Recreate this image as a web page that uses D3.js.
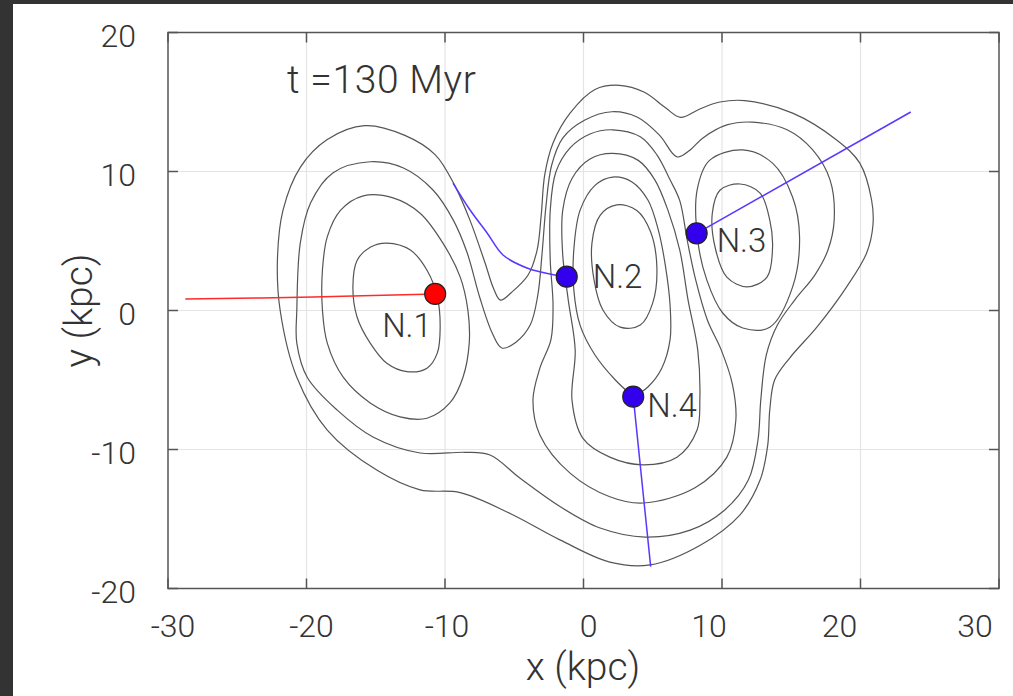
<!DOCTYPE html>
<html>
<head>
<meta charset="utf-8">
<script src="https://cdn.jsdelivr.net/npm/d3@7"></script>
<style>
  html, body { margin: 0; padding: 0; background: #333; }
  svg { display: block; }
  text { font-family: Roboto, "Liberation Sans", sans-serif; font-weight: 300; fill: #333; }
</style>
</head>
<body>
<div id="chart"></div>
<script>
// axis ticks
const xTicks = [-30, -20, -10, 0, 10, 20, 30];
const yTicks = [-20, -10, 0, 10, 20];
const titleText = "t =130 Myr";

// density contours, (x, y) in kpc
const level1 = [[-15.8,13.3],[-12.9,12.6],[-10.7,11.2],[-9.3,9.0],[-8.2,6.5],[-7.1,3.4],[-6.5,1.6],[-6.0,0.75],
  [-5.2,1.3],[-4.0,2.55],[-3.35,4.35],[-3.05,6.9],[-2.8,9.75],[-2.2,12.05],[-0.97,14.2],[0.83,15.9],[2.6,16.2],
  [4.4,15.7],[5.9,14.6],[7.0,13.9],[8.4,14.5],[9.85,15.0],[11.65,15.1],[15.1,14.2],[18.3,12.25],[19.95,10.6],
  [20.8,7.95],[20.9,6.15],[20.45,4.15],[19.0,1.7],[16.85,-1.2],[14.9,-3.4],[13.8,-5.0],[13.45,-7.15],[13.3,-9.7],
  [12.75,-12.2],[11.3,-14.7],[8.4,-16.9],[4.8,-18.3],[1.9,-18.1],[-1.7,-16.5],[-5.3,-14.6],[-8.9,-13.1],
  [-11.8,-12.9],[-14.9,-11.5],[-18.5,-8.6],[-20.7,-4.8],[-21.9,0.0],[-22.1,3.6],[-21.7,7.2],[-20.45,10.3],[-18.5,12.3]];

const level2 = [[-15.4,10.7],[-13.0,10.25],[-10.85,8.65],[-9.4,6.5],[-8.4,4.15],[-7.5,0.97],[-6.6,-1.6],[-5.9,-2.7],
  [-4.9,-2.3],[-3.85,-1.05],[-3.3,1.1],[-3.0,4.0],[-2.7,7.6],[-2.3,10.45],[-1.5,12.4],[0.1,13.7],[2.05,14.3],
  [3.9,13.9],[5.5,12.6],[6.75,11.05],[7.7,11.55],[8.6,12.4],[10.35,13.35],[12.2,13.55],[14.7,13.0],[16.55,11.55],
  [17.8,9.4],[18.1,6.5],[17.65,4.35],[16.7,2.55],[15.25,0.75],[14.0,-1.05],[13.2,-3.2],[12.8,-6.45],[12.6,-9.3],
  [11.9,-12.2],[10.2,-14.35],[7.7,-15.8],[4.45,-16.3],[1.2,-15.65],[-1.7,-14.1],[-4.6,-12.05],[-6.75,-10.4],
  [-8.55,-10.2],[-11.8,-10.25],[-15.2,-9.1],[-17.8,-7.15],[-19.95,-4.8],[-20.7,-2.35],[-20.7,0.0],[-20.45,4.85],
  [-19.7,7.75],[-18.1,9.9]];

const level3Left = [[-15.9,8.25],[-13.75,8.1],[-11.8,7.0],[-10.15,4.85],[-8.9,2.4],[-8.35,0.04],[-8.25,-2.35],
  [-8.7,-4.8],[-9.65,-6.65],[-11.3,-7.75],[-13.25,-7.65],[-15.4,-6.65],[-17.35,-4.8],[-18.5,-2.35],[-18.85,0.04],
  [-18.85,2.9],[-18.5,5.3],[-17.55,7.2]];

const level3Mid = [[2.1,13.0],[4.1,12.5],[5.3,11.2],[6.25,9.4],[6.95,7.9],[7.5,5.0],[8.1,2.2],[8.95,-0.7],
  [9.95,-2.85],[10.75,-5.3],[11.0,-7.9],[10.35,-10.55],[8.05,-12.75],[4.3,-13.85],[1.9,-13.4],[-0.97,-11.7],
  [-3.15,-8.95],[-3.65,-6.45],[-3.15,-4.15],[-2.35,-2.1],[-2.2,0.4],[-2.4,3.6],[-2.4,7.2],[-2.0,9.95],
  [-0.97,11.7],[0.47,12.7]];

const level3Right = [[11.5,11.55],[13.65,10.6],[15.1,8.15],[15.6,5.3],[15.1,1.7],[13.45,-1.2],[11.5,-1.26],
  [10.05,-0.18],[8.9,2.2],[8.25,5.05],[8.2,8.65],[9.1,10.8]];

const level4Left = [[-14.2,4.85],[-12.5,4.35],[-11.3,2.9],[-10.55,0.97],[-10.35,-1.2],[-10.55,-3.05],[-11.3,-4.15],
  [-12.75,-4.4],[-14.2,-3.8],[-15.4,-2.35],[-16.35,-0.47],[-16.65,1.7],[-16.35,3.6],[-15.4,4.55]];

const level4Mid = [[2.1,11.3],[3.95,10.8],[5.15,9.4],[6.1,7.2],[6.95,4.35],[7.55,0.75],[8.25,-2.85],[8.4,-6.45],
  [8.2,-8.6],[6.75,-10.55],[4.3,-11.1],[1.9,-10.55],[-0.04,-9.2],[-0.83,-6.45],[-0.6,-2.85],[-1.1,0.75],
  [-1.5,4.0],[-1.5,7.2],[-0.83,9.5],[0.47,10.9]];

const level4Right = [[11.3,9.1],[12.75,8.45],[13.45,6.5],[13.65,4.55],[13.25,2.4],[11.8,1.7],[10.35,2.4],
  [9.5,4.55],[9.3,7.0],[9.85,8.65]];

// teardrop that ends in a cusp on N.4
const level5Mid = [[3.6,-6.2],[2.3,-5.0],[0.83,-3.2],[-0.25,-1.05],[-0.7,1.5],[-0.7,4.35],[-0.25,7.2],[0.83,9.0],
  [2.1,9.6],[3.5,9.25],[4.65,7.95],[5.4,5.8],[5.9,3.3],[6.25,0.4],[6.25,-2.1],[5.65,-4.15],[4.65,-5.5],[3.6,-6.2]];

const level6Mid = [[2.4,7.6],[3.85,7.2],[4.85,5.65],[5.3,3.05],[5.0,0.55],[4.1,-1.05],[2.65,-1.2],[1.4,0.04],
  [0.76,2.2],[0.61,4.85],[1.2,6.85]];

// nuclei and their tracks
const nucleusNames = ["N.1", "N.2", "N.3", "N.4"];
const nucleusX = [-10.71, -1.21, 8.17, 3.59];
const nucleusY = [1.19, 2.43, 5.55, -6.2];
const trackN1 = [[-28.75,0.83],[-19.5,0.97],[-10.71,1.19]];
const trackN2 = [[-9.42,9.17],[-8.19,7.23],[-6.96,5.58],[-5.81,3.99],[-4.08,3.06],[-2.06,2.55],[-1.21,2.43]];
const trackN3 = [[8.17,5.55],[23.63,14.28]];
const trackN4 = [[3.59,-6.2],[4.85,-18.43]];

// layout / style
const W = 1013, H = 696;
const plot = { left: 168, right: 999, top: 32.5, bottom: 588.5 };
const xLabelDx = [5, 5, 2, 5, -13, -21, -24];
const dotFill = ["#ff0000", "#3300ee", "#3300ee", "#3300ee"];
const trackColor = ["#ff2a2a", "#5a36ff", "#5a36ff", "#5a36ff"];
const labelDx = [-53, 26, 20, 14];
const labelDy = [43, 11, 19, 20];

const svg = d3.select("#chart").append("svg").attr("width", W).attr("height", H);
svg.append("rect").attr("x", 13).attr("y", 4).attr("width", W - 13).attr("height", H - 4).attr("fill", "#fff");

const x = d3.scaleLinear().domain([-30, 30]).range([plot.left, plot.right]);
const y = d3.scaleLinear().domain([-20, 20]).range([plot.bottom, plot.top]);

// grid
svg.append("g").selectAll("line").data(xTicks.slice(1, -1)).join("line")
  .attr("x1", d => x(d)).attr("x2", d => x(d)).attr("y1", plot.top).attr("y2", plot.bottom)
  .attr("stroke", "#e4e4e4").attr("stroke-width", 1.2);
svg.append("g").selectAll("line").data(yTicks.slice(1, -1)).join("line")
  .attr("y1", d => y(d)).attr("y2", d => y(d)).attr("x1", plot.left).attr("x2", plot.right)
  .attr("stroke", "#e4e4e4").attr("stroke-width", 1.2);

// contours
const closed = d3.line().x(d => x(d[0])).y(d => y(d[1])).curve(d3.curveCatmullRomClosed.alpha(0.5));
const open = d3.line().x(d => x(d[0])).y(d => y(d[1])).curve(d3.curveCatmullRom.alpha(0.5));
const closedLevels = [level1, level2, level3Left, level3Mid, level3Right, level4Left, level4Mid, level4Right, level6Mid];
const cg = svg.append("g").attr("fill", "none").attr("stroke", "#555").attr("stroke-width", 1.2);
cg.selectAll("path.c").data(closedLevels).join("path").attr("class", "c").attr("d", closed);
cg.append("path").attr("d", open(level5Mid));

// axes: inside ticks on all four sides
const tl = 10;
const ax = svg.append("g").attr("stroke", "#555").attr("stroke-width", 1.5);
ax.selectAll("line.xb").data(xTicks).join("line").attr("class", "xb")
  .attr("x1", d => x(d)).attr("x2", d => x(d)).attr("y1", plot.bottom).attr("y2", plot.bottom - tl);
ax.selectAll("line.xt").data(xTicks).join("line").attr("class", "xt")
  .attr("x1", d => x(d)).attr("x2", d => x(d)).attr("y1", plot.top).attr("y2", plot.top + tl);
ax.selectAll("line.yl").data(yTicks).join("line").attr("class", "yl")
  .attr("y1", d => y(d)).attr("y2", d => y(d)).attr("x1", plot.left).attr("x2", plot.left + tl);
ax.selectAll("line.yr").data(yTicks).join("line").attr("class", "yr")
  .attr("y1", d => y(d)).attr("y2", d => y(d)).attr("x1", plot.right).attr("x2", plot.right - tl);
svg.append("rect").attr("x", plot.left).attr("y", plot.top)
  .attr("width", plot.right - plot.left).attr("height", plot.bottom - plot.top)
  .attr("fill", "none").attr("stroke", "#555").attr("stroke-width", 1.5);

// tick labels
svg.append("g").selectAll("text").data(xTicks).join("text")
  .attr("x", (d, i) => x(d) + xLabelDx[i]).attr("y", 637).attr("text-anchor", "middle")
  .style("font-size", "32px").text(d => d);
svg.append("g").selectAll("text").data(yTicks).join("text")
  .attr("x", 136).attr("y", d => y(d) + 14).attr("text-anchor", "end")
  .style("font-size", "32px").text(d => d);

// axis titles
svg.append("text").attr("x", 583).attr("y", 680).attr("text-anchor", "middle")
  .style("font-size", "39px").text("x (kpc)");
svg.append("text").attr("transform", "translate(92," + y(0) + ") rotate(-90)").attr("text-anchor", "middle")
  .style("font-size", "39px").text("y (kpc)");

svg.append("text").attr("x", 287).attr("y", 93).style("font-size", "39px")
  .style("letter-spacing", "0.6px").text(titleText);

// tracks
const track = d3.line().x(d => x(d[0])).y(d => y(d[1])).curve(d3.curveCatmullRom.alpha(0.5));
[trackN1, trackN2, trackN3, trackN4].forEach((t, i) => {
  svg.append("path").attr("d", track(t)).attr("fill", "none")
    .attr("stroke", trackColor[i]).attr("stroke-width", 1.5);
});

// nuclei
const nuclei = nucleusNames.map((n, i) => ({ name: n, x: nucleusX[i], y: nucleusY[i], i: i }));
svg.append("g").selectAll("circle").data(nuclei).join("circle")
  .attr("cx", d => x(d.x)).attr("cy", d => y(d.y)).attr("r", 10.5)
  .attr("fill", d => dotFill[d.i]).attr("stroke", "#222").attr("stroke-width", 1.2);
svg.append("g").selectAll("text").data(nuclei).join("text")
  .attr("x", d => x(d.x) + labelDx[d.i]).attr("y", d => y(d.y) + labelDy[d.i])
  .style("font-size", "33px").text(d => d.name);
</script>
</body>
</html>
